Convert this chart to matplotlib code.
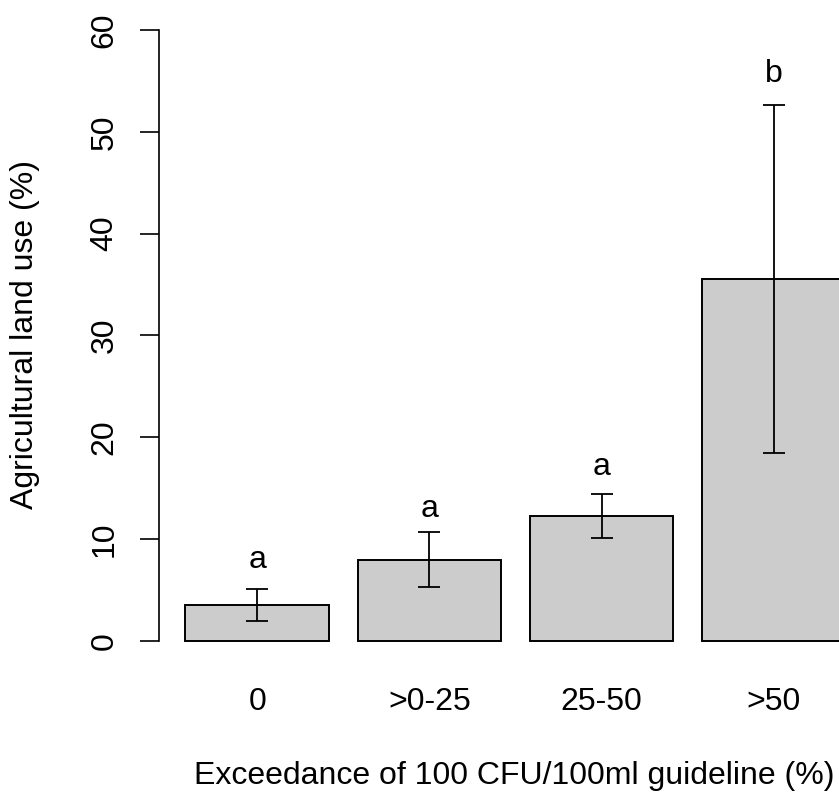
import matplotlib
matplotlib.use("Agg")
import matplotlib.pyplot as plt

# data
categories = ["0", ">0-25", "25-50", ">50"]
land_use = [3.5, 7.95, 12.25, 35.5]
err_low = [1.94, 5.26, 10.12, 18.41]
err_high = [5.05, 10.66, 14.41, 52.63]
letters = ["a", "a", "a", "b"]
letter_y = [7.14, 12.18, 16.28, 54.92]

plt.rcParams["font.family"] = ["Liberation Sans", "DejaVu Sans"]
fs = 23

W, H = 839, 793
fig = plt.figure(figsize=(W / 100, H / 100), dpi=100)

# plot region in pixels (R style, 4% padding on both axes)
left, right, top, bottom = 159, 872, 5.6, 665.1
ax = fig.add_axes([left / W, 1 - bottom / H, (right - left) / W, (bottom - top) / H])

centers = [0.7 + 1.2 * i for i in range(len(categories))]
ax.bar(centers, land_use, width=1.0, color="#cccccc", edgecolor="black",
       linewidth=1.4, clip_on=False, zorder=2)

yerr = [[v - lo for v, lo in zip(land_use, err_low)],
        [hi - v for v, hi in zip(land_use, err_high)]]
ax.errorbar(centers, land_use, yerr=yerr, fmt="none", ecolor="black",
            elinewidth=1.3, capsize=8, capthick=1.3, zorder=3)

for x, s, y in zip(centers, letters, letter_y):
    ax.text(x, y, s, ha="center", va="baseline", fontsize=fs)

ax.set_xlim(0.016, 4.984)
ax.set_ylim(-2.4, 62.4)

for side in ["top", "right", "bottom"]:
    ax.spines[side].set_visible(False)
ax.spines["left"].set_bounds(0, 60)
ax.spines["left"].set_linewidth(1.2)

ax.set_yticks(range(0, 61, 10))
ax.set_yticklabels([str(v) for v in range(0, 61, 10)], rotation=90,
                   va="center", fontsize=fs)
ax.tick_params(axis="y", length=14, width=1.2, pad=14.5)

ax.set_xticks(centers)
ax.set_xticklabels(categories, fontsize=fs)
ax.tick_params(axis="x", length=0, pad=15.5)

fig.text(514 / W, 1 - 776 / H, "Exceedance of 100 CFU/100ml guideline (%)",
         ha="center", va="center", fontsize=fs)
fig.text(25.5 / W, 1 - 335 / H, "Agricultural land use (%)", rotation=90,
         ha="center", va="center", fontsize=fs)

fig.savefig("out.png", dpi=100)
